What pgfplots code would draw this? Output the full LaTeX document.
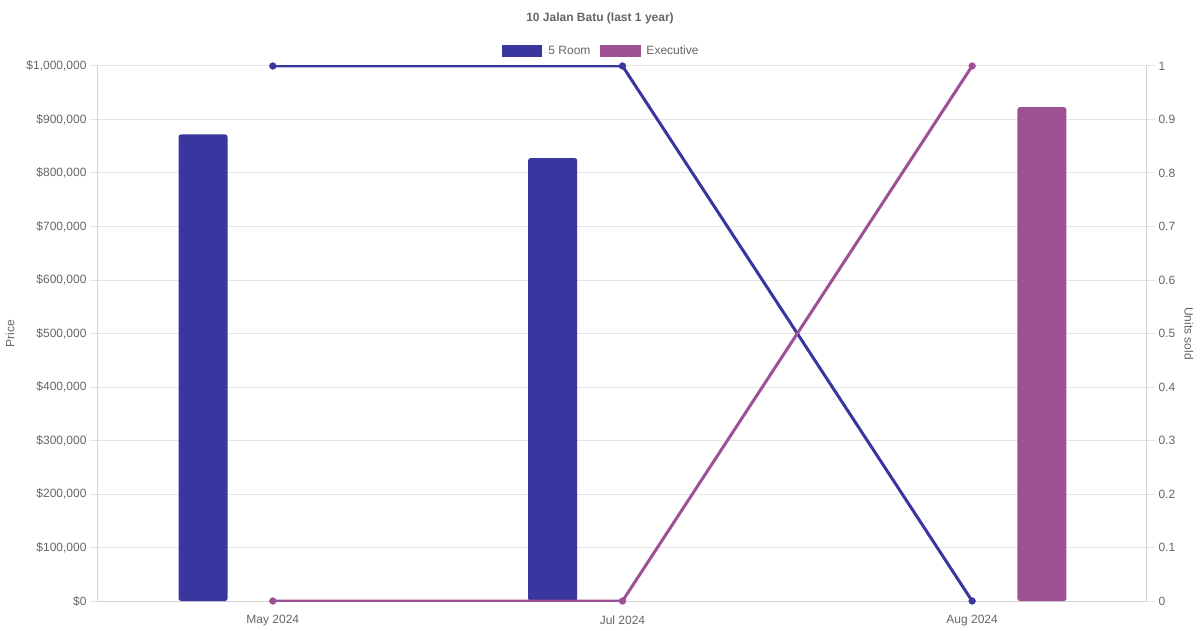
\documentclass[border=0pt]{standalone}
\usepackage{pgfplots}
\pgfplotsset{compat=1.18}
\usepackage{fontspec}
\setmainfont{Liberation Sans}

\definecolor{roomblue}{RGB}{58,54,160}
\definecolor{execpurple}{RGB}{158,80,148}
\definecolor{txtgray}{RGB}{102,102,102}
\definecolor{gridgray}{RGB}{229,229,229}
\definecolor{linegray}{RGB}{210,210,210}

\begin{document}
\begin{tikzpicture}[x=1pt,y=1pt]
\useasboundingbox (0,0) rectangle (1200,630);
\fill[white] (0,0) rectangle (1200,630);
\node[font=\fontsize{12}{14}\selectfont\bfseries, text=txtgray] at (600,612) {10 Jalan Batu (last 1 year)};

% left axis: prices (bars)
\begin{axis}[
  at={(98pt,29pt)}, anchor=south west,
  width=1049pt, height=535pt, scale only axis,
  xmin=-0.5, xmax=2.5, ymin=0, ymax=1000000,
  axis x line*=bottom, axis y line*=left,
  axis line style={linegray, line width=1pt},
  xtick={0,1,2}, xticklabels={May 2024, Jul 2024, Aug 2024},
  x tick style={draw=none},
  ytick={0,100000,...,1000000},
  ymajorgrids, grid style={gridgray, line width=1pt},
  y tick style={gridgray, line width=1pt},
  tick align=outside, major tick length=8pt,
  scaled y ticks=false,
  yticklabel={\$\pgfmathprintnumber[fixed,1000 sep={,}]{\tick}},
  /pgf/number format/assume math mode=true,
  tick label style={font=\fontsize{12}{14}\selectfont, text=txtgray},
  xticklabel style={yshift=-3pt},
  ylabel={Price},
  ylabel style={at={(axis description cs:-0.0839,0.5)}, anchor=center, font=\fontsize{12}{14}\selectfont, text=txtgray},
  legend columns=2,
  legend style={at={(0.48,1.0285)}, anchor=center, draw=none, fill=none,
    font=\fontsize{12}{14}\selectfont, text=txtgray,
    /tikz/every even column/.append style={column sep=8pt}},
  legend cell align=left,
  legend image code/.code={\path[#1, draw=none] (0pt,-6pt) rectangle (40pt,6pt); \path[draw=none, fill=none] (0pt,0pt) -- (44pt,0pt);},
]
\addlegendimage{fill=roomblue}
\addlegendentry{5 Room}
\addlegendimage{fill=execpurple}
\addlegendentry{Executive}
\addplot[ybar, bar width=49pt, bar shift=-69.8pt, fill=roomblue, draw=none, rounded corners=2.5pt, forget plot]
  coordinates {(0,872000) (1,828000)};
\addplot[ybar, bar width=49pt, bar shift=69.8pt, fill=execpurple, draw=none, rounded corners=2.5pt, forget plot]
  coordinates {(2,923000)};
\end{axis}

% right axis: units sold (lines)
\begin{axis}[
  at={(98pt,29pt)}, anchor=south west,
  width=1049pt, height=535pt, scale only axis,
  xmin=-0.5, xmax=2.5, ymin=0, ymax=1,
  axis x line=none, axis y line*=right,
  axis line style={linegray, line width=1pt},
  ytick={0,0.1,...,1.01},
  yticklabel style={/pgf/number format/.cd, fixed, precision=1},
  y tick style={gridgray, line width=1pt},
  tick align=outside, major tick length=8pt,
  /pgf/number format/assume math mode=true,
  tick label style={font=\fontsize{12}{14}\selectfont, text=txtgray},
  ylabel={Units sold},
  ylabel style={at={(axis description cs:1.040,0.5)}, anchor=center, rotate=180, font=\fontsize{12}{14}\selectfont, text=txtgray},
]
\addplot[roomblue, line width=3pt, mark=*, mark size=3.4pt, mark options={solid, line width=0.4pt}]
  coordinates {(0,1) (1,1) (2,0)};
\addplot[execpurple, line width=3pt, mark=*, mark size=3.4pt, mark options={solid, line width=0.4pt}]
  coordinates {(0,0) (1,0) (2,1)};
\end{axis}
\end{tikzpicture}
\end{document}
